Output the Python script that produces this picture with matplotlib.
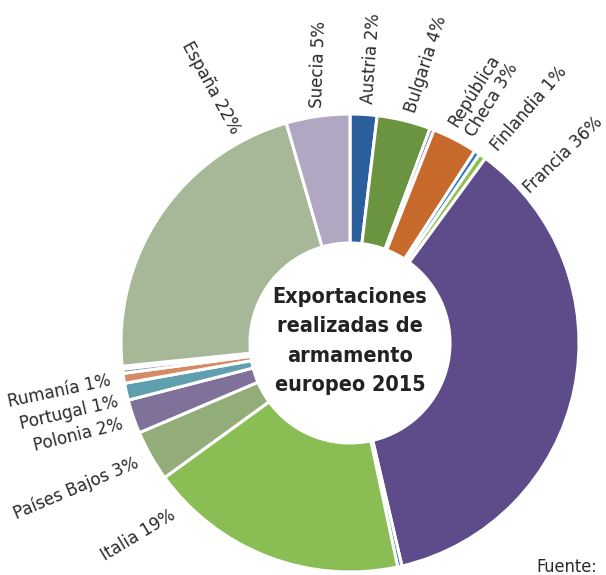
import numpy as np
import matplotlib.pyplot as plt

# Datos: porcentaje de exportaciones de armamento (orden horario desde arriba)
paises = ["Austria", "Bulgaria", "Croacia", "República Checa", "Dinamarca",
          "Finlandia", "Francia", "Irlanda", "Italia", "Países Bajos",
          "Polonia", "Portugal", "Rumanía", "Eslovaquia", "Eslovenia",
          "España", "Suecia"]
valores = [1.9, 3.8, 0.3, 3.2, 0.4, 0.5, 36.4, 0.3, 18.4, 3.6,
           2.4, 1.2, 0.7, 0.3, 0.2, 22.2, 4.5]
colores = ["#2b5f9b", "#6b9441", "#7b6aa0", "#c86a2c", "#2f77c2",
           "#8cc14f", "#5e4c8a", "#3f79b9", "#8bbd55", "#93ad79",
           "#7f7199", "#5f9faf", "#d48b66", "#8a8ea8", "#b9b3c9",
           "#a7b899", "#b1a7c2"]

# Etiquetas (texto, posición en píxeles, rotación, alineación)
etiquetas = [
    ("España 22%", (236, 442), -61, "right"),
    ("Suecia 5%", (317, 467), 88, "left"),
    ("Austria 2%", (368, 471), 86, "left"),
    ("Bulgaria 4%", (410, 463), 72, "left"),
    ("República\nCheca 3%", (461, 445), 58, "left"),
    ("Finlandia 1%", (494, 426), 49, "left"),
    ("Francia 36%", (527, 385), 44, "left"),
    ("Rumanía 1%", (111, 195), 12, "right"),
    ("Portugal 1%", (118, 173), 13, "right"),
    ("Polonia 2%", (123, 151), 14, "right"),
    ("Países Bajos 3%", (138, 113), 23, "right"),
    ("Italia 19%", (174, 61), 31, "right"),
]

titulo = "Exportaciones\nrealizadas de\narmamento\neuropeo 2015"

fig = plt.figure(figsize=(6.06, 5.75), dpi=100)
ax = fig.add_axes([0, 0, 1, 1])

ax.pie(valores, colors=colores, startangle=90, counterclock=False,
       center=(350, 232), radius=229, frame=True,
       wedgeprops=dict(width=129, edgecolor="white", linewidth=2.2))
ax.set_xlim(0, 606)
ax.set_ylim(0, 575)
ax.set_aspect("equal")
ax.axis("off")

fuente = ["DejaVu Sans"]
for texto, (x, y), rot, ha in etiquetas:
    ax.text(x, y, texto, rotation=rot, rotation_mode="anchor", ha=ha,
            va="center", fontsize=13.3, color="#2a2a2a", family=fuente,
            stretch="condensed", linespacing=1.15)

ax.text(350, 234, titulo, ha="center", va="center", fontsize=15.5,
        fontweight="bold", color="#222222", family=fuente,
        stretch="condensed", linespacing=1.6)
ax.text(536, 8, "Fuente:", ha="left", va="center", fontsize=13,
        color="#2a2a2a", family=fuente, stretch="condensed")

fig.savefig("out.png", dpi=100)
